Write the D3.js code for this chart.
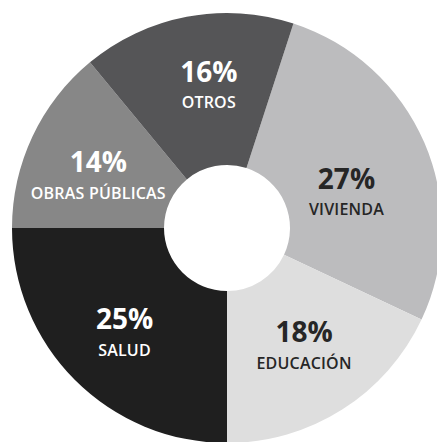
<!DOCTYPE html>
<html>
<head>
<meta charset="utf-8">
<script src="https://cdn.jsdelivr.net/npm/d3@7"></script>
<style>
  body { margin: 0; background: #fff; }
  svg { display: block; }
</style>
</head>
<body>
<script>
// data (clockwise from the 18 deg mark)
var categories = ["VIVIENDA", "EDUCACIÓN", "SALUD", "OBRAS PÚBLICAS", "OTROS"];
var values = [27, 18, 25, 14, 16];
var pctLabels = ["27%", "18%", "25%", "14%", "16%"];

var colors = ["#bcbcbe", "#dedede", "#1f1f1f", "#878787", "#555557"];
var textColors = ["#262626", "#262626", "#ffffff", "#ffffff", "#ffffff"];
// small nudges so labels sit where the original had them
var nudge = {
  "VIVIENDA": [-9, 22],
  "EDUCACIÓN": [2, 1.5],
  "SALUD": [-3.5, 8],
  "OBRAS PÚBLICAS": [-2, 9.5],
  "OTROS": [8, -3]
};

var width = 437, height = 442;
var cx = 227, cy = 228;
var outerR = 215, innerR = 63;

var svg = d3.select("body").append("svg")
    .attr("width", width)
    .attr("height", height)
  .append("g")
    .attr("transform", "translate(" + cx + "," + cy + ")");

var data = categories.map(function(c, i) {
  return {name: c, value: values[i], pct: pctLabels[i], color: colors[i], tcol: textColors[i]};
});

var start = 18 * Math.PI / 180;
var pie = d3.pie()
    .value(function(d) { return d.value; })
    .sort(null)
    .startAngle(start)
    .endAngle(start + 2 * Math.PI);

var arc = d3.arc().innerRadius(innerR).outerRadius(outerR);
var labelArc = d3.arc().innerRadius(140).outerRadius(140);

var arcs = pie(data);

svg.selectAll("path.slice")
    .data(arcs)
  .enter().append("path")
    .attr("class", "slice")
    .attr("d", arc)
    .attr("fill", function(d) { return d.data.color; });

var lab = svg.selectAll("g.lab")
    .data(arcs)
  .enter().append("g")
    .attr("class", "lab")
    .attr("transform", function(d) {
      var c = labelArc.centroid(d), n = nudge[d.data.name];
      return "translate(" + (c[0] + n[0]) + "," + (c[1] + n[1]) + ")";
    });

lab.append("text")
    .attr("y", -5.5)
    .attr("text-anchor", "middle")
    .style("font-family", "'Open Sans', sans-serif")
    .style("font-weight", "700")
    .style("font-size", "28px")
    .attr("fill", function(d) { return d.data.tcol; })
    .text(function(d) { return d.data.pct; });

lab.append("text")
    .attr("y", 21)
    .attr("text-anchor", "middle")
    .style("font-family", "'Open Sans', sans-serif")
    .style("font-weight", "600")
    .style("font-size", "16px")
    .style("letter-spacing", "0.2px")
    .attr("fill", function(d) { return d.data.tcol; })
    .text(function(d) { return d.data.name; });
</script>
</body>
</html>
